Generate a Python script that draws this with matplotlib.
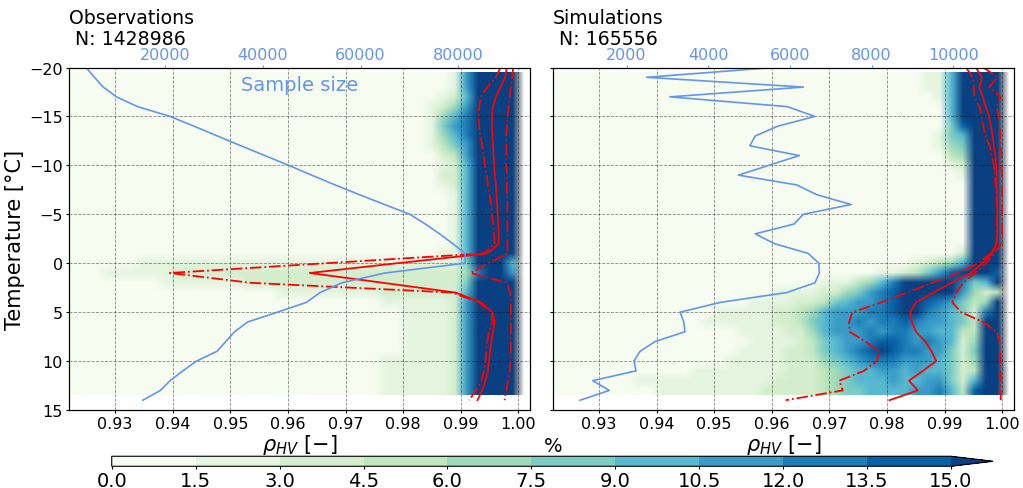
import numpy as np
import matplotlib
matplotlib.use('Agg')
import matplotlib.pyplot as plt
from matplotlib.colors import BoundaryNorm

# temperature levels of the profiles
temps = [-20, -19, -18, -17, -16, -15, -14, -13, -12, -11, -10, -9, -8, -7, -6, -5, -4, -3, -2,
         -1, 0, 1, 2, 3, 4, 5, 6, 7, 8, 9, 10, 11, 12, 13, 14]

# observations: median / lower / upper quantile of rhoHV, and sample size
obs_median = [0.9980, 0.9977, 0.9969, 0.9961, 0.9956, 0.9954, 0.9954, 0.9955, 0.9956, 0.9957,
              0.9958, 0.9959, 0.9961, 0.9962, 0.9963, 0.9964, 0.9965, 0.9966, 0.9966, 0.9946,
              0.9790, 0.9638, 0.9765, 0.9891, 0.9935, 0.9955, 0.9959, 0.9956, 0.9953, 0.9951,
              0.9949, 0.9947, 0.9943, 0.9937, 0.9929]
obs_q_low = [0.9969, 0.9961, 0.9946, 0.9935, 0.9932, 0.9931, 0.9932, 0.9934, 0.9937, 0.9940,
             0.9942, 0.9945, 0.9947, 0.9950, 0.9953, 0.9954, 0.9956, 0.9958, 0.9959, 0.9940,
             0.9666, 0.9395, 0.9535, 0.9885, 0.9931, 0.9953, 0.9955, 0.9949, 0.9946, 0.9944,
             0.9943, 0.9940, 0.9936, 0.9927, 0.9914]
obs_q_high = [0.9991, 0.9989, 0.9987, 0.9985, 0.9983, 0.9981, 0.9980, 0.9979, 0.9979, 0.9979,
              0.9979, 0.9980, 0.9980, 0.9980, 0.9981, 0.9981, 0.9981, 0.9981, 0.9981, 0.9981,
              0.9948, 0.9917, 0.9980, 0.9986, 0.9987, 0.9987, 0.9987, 0.9987, 0.9987, 0.9987,
              0.9986, 0.9985, 0.9982, 0.9979, 0.9976]
obs_count = [3770, 5500, 7290, 10000, 14350, 21000, 25900, 30700, 35500, 40400,
             45300, 50000, 54800, 59800, 64900, 70100, 73300, 76200, 78900, 81400,
             81400, 65000, 56200, 51700, 48900, 43000, 36900, 34200, 32400, 30600,
             26400, 23600, 21000, 19000, 15400]

# simulations
sim_median = [0.9954, 0.9964, 0.9960, 0.9966, 0.9971, 0.9977, 0.9980, 0.9983, 0.9985, 0.9988,
              0.9989, 0.9990, 0.9990, 0.9991, 0.9991, 0.9991, 0.9991, 0.9991, 0.9990, 0.9982,
              0.9965, 0.9945, 0.9912, 0.9880, 0.9850, 0.9840, 0.9843, 0.9850, 0.9866, 0.9877,
              0.9885, 0.9862, 0.9838, 0.9853, 0.9804]
sim_q_low = [0.9937, 0.9948, 0.9950, 0.9951, 0.9960, 0.9964, 0.9967, 0.9970, 0.9978, 0.9981,
             0.9985, 0.9987, 0.9988, 0.9989, 0.9990, 0.9990, 0.9990, 0.9990, 0.9989, 0.9980,
             0.9958, 0.9923, 0.9878, 0.9835, 0.9790, 0.9740, 0.9734, 0.9735, 0.9762, 0.9786,
             0.9782, 0.9760, 0.9717, 0.9723, 0.9624]
sim_q_high = [0.9967, 0.9991, 0.9977, 0.9997, 0.9990, 0.9993, 0.9995, 0.9996, 0.9997, 0.9998,
              0.9998, 0.9999, 0.9999, 0.9999, 0.9999, 0.9999, 0.9999, 0.9999, 0.9998, 0.9985,
              0.9972, 0.9952, 0.9932, 0.9920, 0.9913, 0.9928, 0.9966, 0.9990, 0.9995, 0.9996,
              0.9997, 0.9997, 0.9997, 0.9997, 0.9997]
sim_count = [5600, 2490, 6330, 3060, 5940, 6610, 5700, 5150, 5020, 6230,
             5480, 4740, 6170, 6660, 7500, 6330, 6100, 5150, 5620, 6450,
             6710, 6720, 6615, 5920, 4300, 3310, 3400, 3430, 2700, 2330,
             2180, 2230, 1170, 1575, 860]

# frequency (%) heatmaps, rows T = -19 .. 13, rhoHV bins of 0.002 from 0.922;
# each char is a colour class (0-9 -> 1.5 % steps, X -> above 15 %), left-padded with 0
levels = [0, 1.5, 3, 4.5, 6, 7.5, 9, 10.5, 12, 13.5, 15]
obs_freq = [
    "17XXXX", "17XXXX", "126XXXX", "1247XXXX", "1468XXXX", "1578XXXX", "1468XXXX",
    "1357XXXX", "237XXXX", "126XXXX", "226XXXX", "126XXXX", "16XXXX", "16XXXX",
    "16XXXX", "16XXXX", "16XXXX", "16XXXX", "116XXXX",
    "1111111111111111111111111111" + "5XXX6",
    "111111" + "2222222222222222222222222" + "48XX7",
    "1111111" + "2222222222222222222" + "5XXXX",
    "111111111" + "2222222" + "6XXXX",
    "1111112" + "7XXXX",
    "11112" + "7XXXX", "11112" + "7XXXX", "11112" + "7XXXX", "11112" + "7XXXX", "11112" + "7XXXX",
    "1111112" + "7XXXX", "1111112" + "7XXXX", "1111112" + "7XXXX", "1111112" + "7XXXX",
]
sim_freq = [
    "116XXXX", "116XXXX", "16XXXX", "6XXXX", "6XXXX", "59XXX", "156XXX", "145XXX",
    "34XXX", "12XXX", "1XXX", "XXX", "XXX", "XXX", "XXX", "XXX", "XXX", "XXX", "2XXX",
    "12346XXX",
    "1123579XXX9",
    "1113468XXXXX856X",
    "11112245789XXXXX7423",
    "1111223567789XX987534X",
    "1111122346777889XX876528X",
    "111111" + "22" + "3567787889877653XX",
    "1111" + "22" + "46777" + "87887" + "76633" + "XX",
    "1111" + "2" + "35677" + "89987" + "87624" + "XX",
    "1111" + "22" + "35678" + "9X988" + "77525" + "XX",
    "11111" + "222" + "45678" + "88777" + "6524" + "XX",
    "11111111" + "222" + "34566" + "77676" + "6523" + "XX",
    "111111111111" + "2222" + "34566" + "67667" + "7526" + "XX",
    "111111111" + "22222" + "34556" + "66677" + "8639" + "XX",
]


def decode(rows):
    grid = np.full((len(rows), 40), np.nan)
    for r, s in enumerate(rows):
        s = s.rjust(39, '0')
        for c, ch in enumerate(s):
            grid[r, c] = 16.0 if ch == 'X' else levels[int(ch)] + 0.75
    return grid


cmap = plt.get_cmap('GnBu')
norm = BoundaryNorm(levels, ncolors=cmap.N, extend='max')

fig = plt.figure(figsize=(10.23, 4.89), dpi=100)
ax1 = fig.add_axes([0.0674, 0.1595, 0.4506, 0.7004])
ax2 = fig.add_axes([0.5403, 0.1595, 0.4509, 0.7004], sharey=ax1)

panels = [
    (ax1, obs_freq, obs_median, obs_q_low, obs_q_high, obs_count,
     'Observations\n N: 1428986', (270, 94700), [20000, 40000, 60000, 80000]),
    (ax2, sim_freq, sim_median, sim_q_low, sim_q_high, sim_count,
     'Simulations\n N: 165556', (190, 11490), [2000, 4000, 6000, 8000, 10000]),
]

for ax, freq, med, qlo, qhi, cnt, title, clim, cticks in panels:
    im = ax.imshow(decode(freq), cmap=cmap, norm=norm, origin='upper',
                   extent=[0.922, 1.002, 13.5, -19.5], aspect='auto',
                   interpolation='bilinear', interpolation_stage='rgba')
    ax.plot(med, temps, color='red', lw=1.3)
    ax.plot(qlo, temps, color='red', lw=1.3, ls='-.')
    ax.plot(qhi, temps, color='red', lw=1.3, ls='-.')
    ax.set_xlim(0.922, 1.002)
    ax.set_xticks([0.93, 0.94, 0.95, 0.96, 0.97, 0.98, 0.99, 1.00])
    ax.set_ylim(15, -20)
    ax.set_yticks([-20, -15, -10, -5, 0, 5, 10, 15])
    ax.grid(True, ls='--', lw=0.6, color='k', alpha=0.45)
    ax.tick_params(labelsize=11.5, length=2.5, pad=1.8)
    ax.set_xlabel(r'$\rho_{HV}$ [$-$]', fontsize=15, labelpad=1)

    axt = ax.twiny()
    axt.plot(cnt, temps, color='cornflowerblue', lw=1.2)
    axt.set_xlim(*clim)
    axt.set_xticks(cticks)
    axt.tick_params(axis='x', colors='cornflowerblue', labelsize=11.5, length=2, pad=2)
    ax.text(0, 1.058, title, transform=ax.transAxes, ha='left', va='bottom',
            fontsize=13.6, linespacing=1.12)

ax1.set_ylabel('Temperature [°C]', fontsize=15, labelpad=3)
ax2.tick_params(labelleft=False)
ax1.text(0.5, 0.949, 'Sample size', transform=ax1.transAxes, ha='center', va='center',
         fontsize=14, color='cornflowerblue', zorder=5)

cax = fig.add_axes([0.1092, 0.0444, 0.8615, 0.0205])
cb = fig.colorbar(im, cax=cax, orientation='horizontal', extend='max', ticks=levels)
cb.ax.tick_params(labelsize=14, length=2, pad=1.2)
fig.text(553 / 1023, 1 - 446.7 / 489, '%', ha='center', va='center', fontsize=14)

fig.savefig('out.png', dpi=100)
